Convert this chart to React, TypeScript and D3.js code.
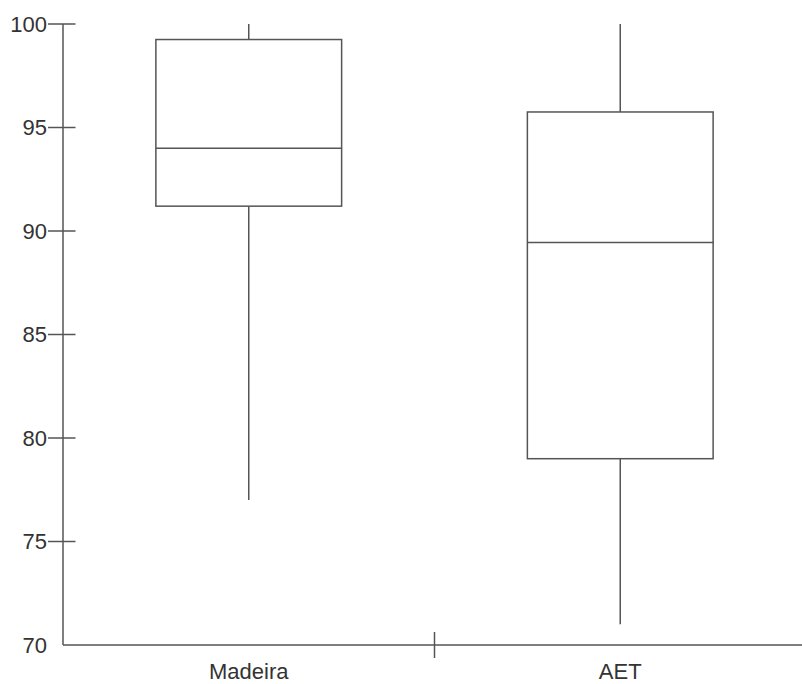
import React from "react";
import * as d3 from "d3";

const categories = ["Madeira", "AET"];
const whiskerLow = [77, 71];
const q1 = [91.2, 79];
const median = [94, 89.45];
const q3 = [99.25, 95.75];
const whiskerHigh = [100, 100];
const yTicks = [70, 75, 80, 85, 90, 95, 100];

const W = 802;
const H = 684;
const LINE = "#555";
const TEXT = "#333";
const FONT = "'Liberation Sans', Arial, sans-serif";

export default function App() {
  const y = d3.scaleLinear().domain([70, 100]).range([645, 24]);
  const x = d3.scaleBand<string>().domain(categories).range([63, 806]).padding(0);
  const bw = x.bandwidth();
  const boxW = bw * 0.5;
  const boundaries = categories.slice(1).map((c) => x(c)!);

  return (
    <svg
      width={W}
      height={H}
      style={{ position: "absolute", left: 0, top: 0, background: "#fff" }}
      fontFamily={FONT}
    >
      {/* y axis */}
      <line x1={63} x2={63} y1={y(100)} y2={y(70)} stroke={LINE} strokeWidth={1.5} />
      {yTicks.map((t) => (
        <g key={t}>
          {t !== 70 && (
            <line x1={48} x2={75.5} y1={y(t)} y2={y(t)} stroke={LINE} strokeWidth={1.5} />
          )}
          <text
            x={47}
            y={y(t)}
            dy="0.35em"
            textAnchor="end"
            fontSize={22}
            fill={TEXT}
          >
            {t}
          </text>
        </g>
      ))}
      {/* x axis */}
      <line x1={63} x2={806} y1={y(70)} y2={y(70)} stroke={LINE} strokeWidth={1.5} />
      {boundaries.map((b, i) => (
        <line key={i} x1={b} x2={b} y1={y(70) - 13} y2={y(70) + 13} stroke={LINE} strokeWidth={1.5} />
      ))}
      {categories.map((c) => (
        <text
          key={c}
          x={x(c)! + bw / 2}
          y={679}
          textAnchor="middle"
          fontSize={22}
          fill={TEXT}
        >
          {c}
        </text>
      ))}
      {/* boxes */}
      {categories.map((c, i) => {
        const cx = x(c)! + bw / 2;
        const x0 = cx - boxW / 2;
        return (
          <g key={c} stroke={LINE} strokeWidth={1.5} fill="none">
            <line x1={cx} x2={cx} y1={y(whiskerHigh[i])} y2={y(q3[i])} />
            <line x1={cx} x2={cx} y1={y(q1[i])} y2={y(whiskerLow[i])} />
            <rect x={x0} y={y(q3[i])} width={boxW} height={y(q1[i]) - y(q3[i])} fill="#fff" />
            <line x1={x0} x2={x0 + boxW} y1={y(median[i])} y2={y(median[i])} />
          </g>
        );
      })}
    </svg>
  );
}
